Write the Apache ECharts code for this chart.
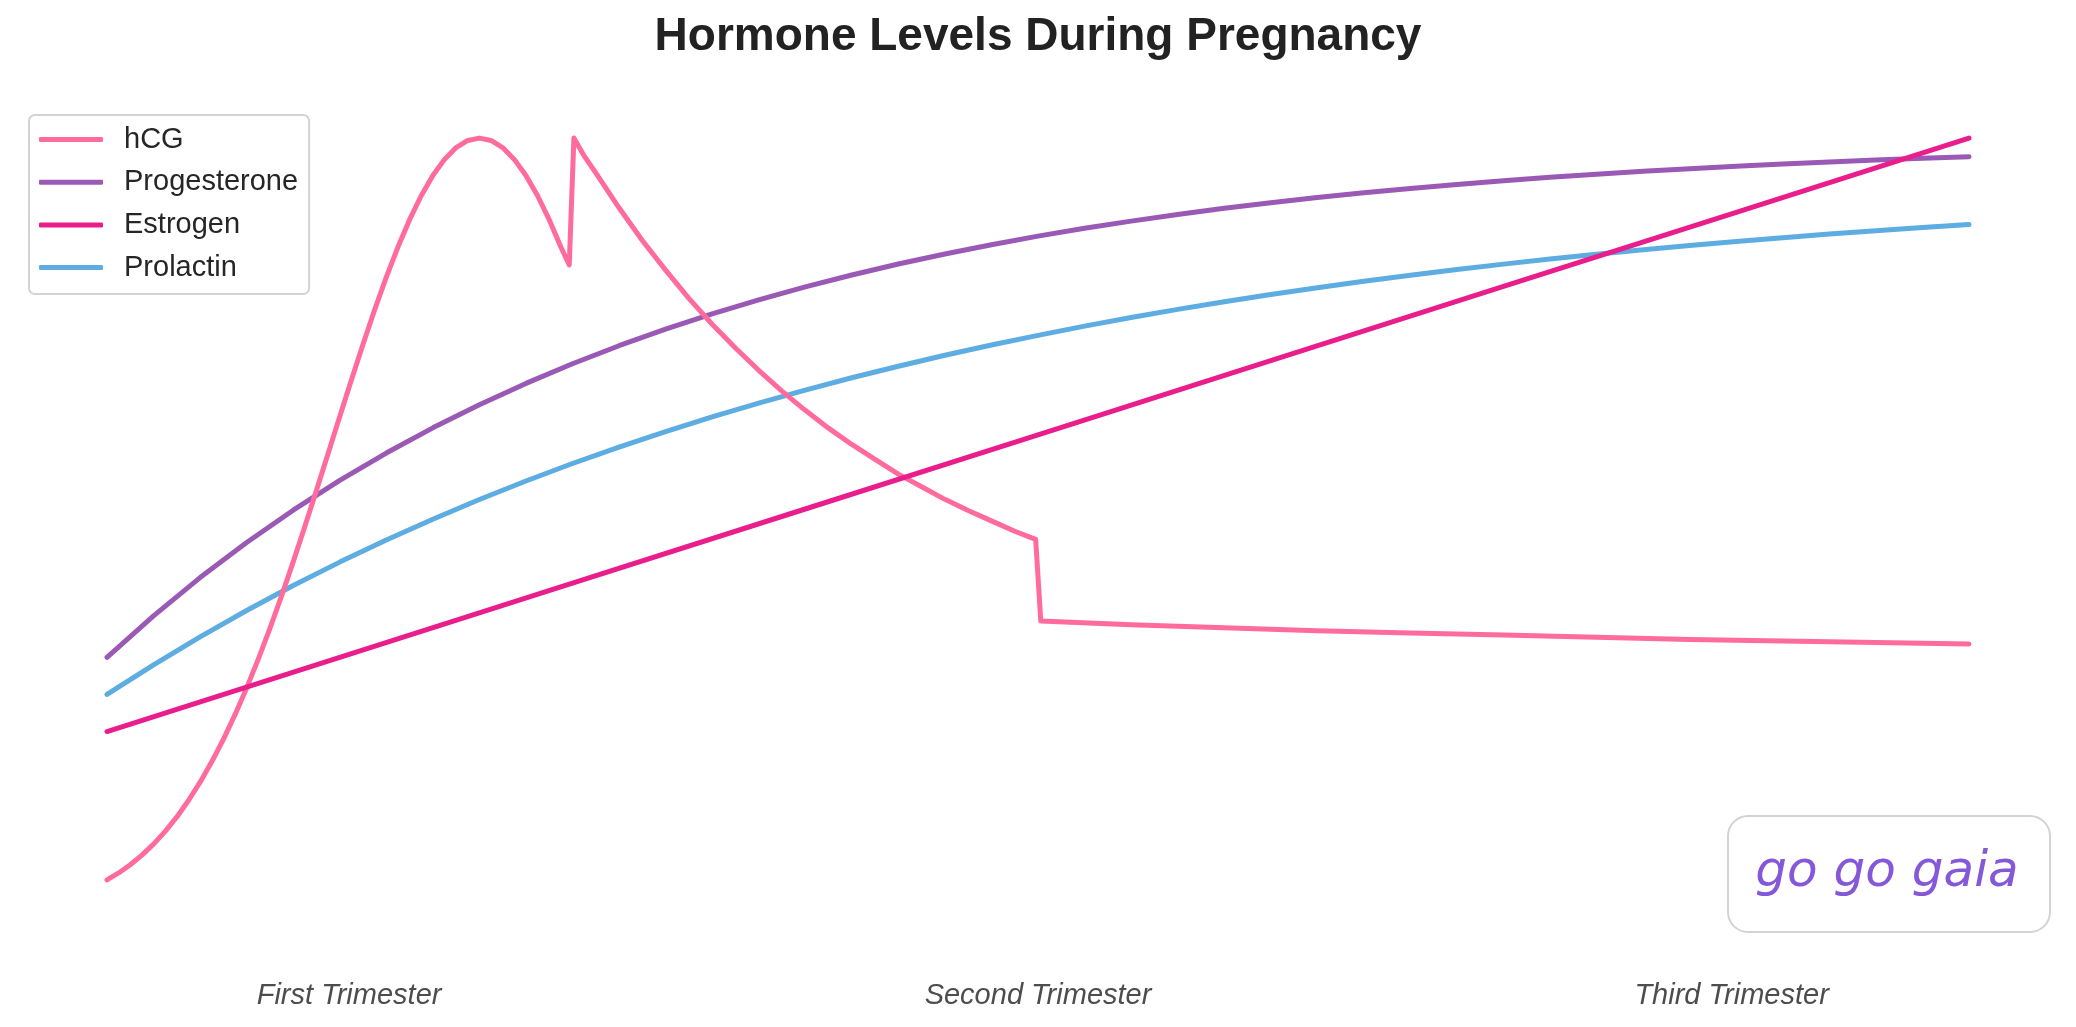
<!DOCTYPE html>
<html><head><meta charset="utf-8">
<script src="https://cdn.jsdelivr.net/npm/echarts@6/dist/echarts.min.js"></script>
<style>html,body{margin:0;padding:0;background:#fff}#c{width:2076px;height:1027px}</style>
</head><body><div id="c"></div>
<script>
// ---- data (x = week of pregnancy, y = relative level) ----
const seriesNames = ['hCG', 'Progesterone', 'Estrogen', 'Prolactin'];
const seriesColors = ['#ff6b9d', '#9b59b6', '#e91e8c', '#5dade2'];

const hcgWeeks = [0,0.25,0.5,0.75,1,1.25,1.5,1.75,2,2.25,2.5,2.75,3,3.25,3.5,3.75,4,4.25,4.5,4.75,5,5.25,5.5,5.75,
  6,6.25,6.5,6.75,7,7.25,7.5,7.75,8,8.25,8.5,8.75,9,9.25,9.5,9.75,9.93,
  10.03,10.25,10.5,11,11.5,12,12.5,13,13.5,14,14.5,15,15.5,16,16.5,17,17.5,18,18.5,19,19.5,19.95,
  20.06,22,24,26,28,30,32,34,36,38,40];
const hcgValues = [0.00,0.94,2.05,3.34,4.83,6.54,8.49,10.70,13.17,15.92,18.95,22.28,25.88,29.77,33.91,38.29,42.88,47.64,52.53,57.49,62.47,67.40,72.22,76.86,
  81.25,85.31,89.00,92.23,94.96,97.13,98.72,99.68,100.00,99.68,98.72,97.13,94.96,92.23,89.00,85.31,82.90,
  100.00,97.60,95.30,90.60,86.20,82.20,78.40,74.90,71.70,68.70,65.90,63.30,60.90,58.70,56.70,54.70,53.00,51.30,49.80,48.40,47.00,45.90,
  34.90,34.40,34.00,33.60,33.30,33.00,32.70,32.40,32.20,32.00,31.80];

const curveWeeks = [0,1,2,3,4,5,6,7,8,9,10,11,12,13,14,15,16,17,18,19,20,21,22,23,24,25,26,27,28,29,30,31,32,33,34,35,36,37,38,39,40];
const progesteroneValues = [30.00,35.60,40.75,45.48,49.84,53.85,57.54,60.94,64.06,66.93,69.58,72.01,74.25,76.31,78.20,79.95,81.55,83.02,84.38,85.63,
  86.78,87.84,88.81,89.70,90.53,91.28,91.98,92.62,93.21,93.75,94.25,94.71,95.14,95.53,95.88,96.21,96.51,96.79,97.05,97.29,97.50];
const prolactinValues = [25.00,29.00,32.77,36.32,39.68,42.84,45.82,48.63,51.28,53.77,56.13,58.35,60.44,62.42,64.28,66.03,67.69,69.25,70.72,72.11,
  73.41,74.65,75.81,76.91,77.94,78.91,79.83,80.70,81.52,82.29,83.01,83.70,84.34,84.95,85.53,86.07,86.58,87.06,87.51,87.94,88.34];

const estrogenWeeks = [0,5,10,15,20,25,30,35,40];
const estrogenValues = [20,30,40,50,60,70,80,90,100];

const tickWeeks = [5.2, 20, 34.9];
const tickLabels = ['First Trimester', 'Second Trimester', 'Third Trimester'];

// ---- build ----
const pairs = (xs, ys) => xs.map((x, i) => [x, ys[i]]);
const lineStyle = (c) => ({ color: c, width: 5, cap: 'round', join: 'round' });

const chart = echarts.init(document.getElementById('c'), null, { renderer: 'canvas' });
chart.setOption({
  animation: false,
  backgroundColor: '#ffffff',
  title: {
    text: 'Hormone Levels During Pregnancy',
    left: 'center', top: 9,
    textStyle: { fontSize: 46, fontWeight: 'bold', color: '#222222', fontFamily: 'Liberation Sans, Arial, sans-serif' }
  },
  legend: {
    orient: 'vertical', left: 29, top: 115,
    padding: [10, 11, 12, 10], itemGap: 13.7,
    itemWidth: 64, itemHeight: 5, icon: 'roundRect',
    borderColor: '#d3d3d3', borderWidth: 2, borderRadius: 6, backgroundColor: '#ffffff',
    textStyle: { fontSize: 29, color: '#262626', fontFamily: 'Liberation Sans, Arial, sans-serif', padding: [0, 0, 0, 16] },
    data: seriesNames
  },
  grid: { left: 107, right: 107, top: 101, bottom: 110, containLabel: false },
  xAxis: {
    type: 'value', min: 0, max: 40,
    axisLine: { show: false }, axisTick: { show: false }, splitLine: { show: false },
    axisLabel: {
      customValues: tickWeeks,
      formatter: (v) => { const i = tickWeeks.indexOf(v); return i >= 0 ? tickLabels[i] : ''; },
      margin: 64, fontSize: 29, fontStyle: 'italic', color: '#4d4d4d',
      fontFamily: 'Liberation Sans, Arial, sans-serif'
    }
  },
  yAxis: {
    type: 'value', min: -5, max: 105,
    axisLine: { show: false }, axisTick: { show: false }, splitLine: { show: false }, axisLabel: { show: false }
  },
  series: [
    { name: seriesNames[0], type: 'line', data: pairs(hcgWeeks, hcgValues), showSymbol: false, symbol: 'none',
      color: seriesColors[0], lineStyle: lineStyle(seriesColors[0]), z: 4 },
    { name: seriesNames[1], type: 'line', data: pairs(curveWeeks, progesteroneValues), showSymbol: false, symbol: 'none',
      color: seriesColors[1], lineStyle: lineStyle(seriesColors[1]), z: 3 },
    { name: seriesNames[2], type: 'line', data: pairs(estrogenWeeks, estrogenValues), showSymbol: false, symbol: 'none',
      color: seriesColors[2], lineStyle: lineStyle(seriesColors[2]), z: 5 },
    { name: seriesNames[3], type: 'line', data: pairs(curveWeeks, prolactinValues), showSymbol: false, symbol: 'none',
      color: seriesColors[3], lineStyle: lineStyle(seriesColors[3]), z: 2 }
  ],
  graphic: [
    { type: 'rect', left: 1727, top: 815, z: 10,
      shape: { width: 322, height: 116, r: 20 },
      style: { fill: '#ffffff', stroke: '#d3d3d3', lineWidth: 2 } },
    { type: 'text', x: 1887, y: 873, z: 11,
      style: { text: 'go go gaia', fill: '#8458d8', font: 'italic 50px "DejaVu Sans", sans-serif',
               textAlign: 'center', textVerticalAlign: 'middle' } }
  ]
});
</script></body></html>
